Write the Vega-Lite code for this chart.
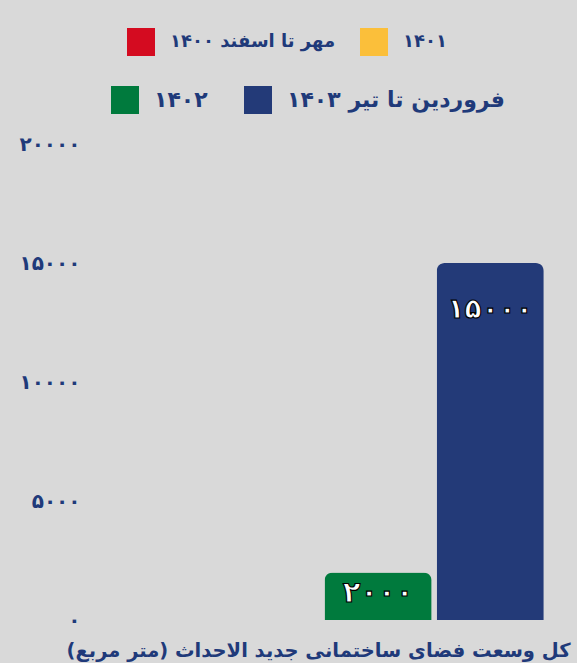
{
  "$schema": "https://vega.github.io/schema/vega-lite/v6.json",
  "width": 448,
  "height": 476,
  "autosize": "none",
  "padding": {"left": 98, "top": 144, "right": 31, "bottom": 43},
  "background": "#d9d9d9",
  "config": {
    "view": {"stroke": null},
    "font": "DejaVu Sans",
    "legend": {
      "orient": "none",
      "direction": "horizontal",
      "title": null,
      "symbolType": "square",
      "symbolSize": 784,
      "symbolStrokeWidth": 0,
      "labelFont": "DejaVu Sans",
      "labelFontSize": 22,
      "labelFontWeight": "bold",
      "labelColor": "#1f3a7a",
      "labelOffset": 15,
      "labelLimit": 400
    }
  },
  "data": {
    "values": [
      {"period": "مهر تا اسفند ۱۴۰۰", "area": null},
      {"period": "۱۴۰۱", "area": null},
      {"period": "۱۴۰۲", "area": 2000},
      {"period": "فروردین تا تیر ۱۴۰۳", "area": 15000}
    ]
  },
  "transform": [
    {"calculate": "replace(replace(replace(replace(replace(replace(replace(replace(replace(replace(format(datum.area,'d'),regexp('0','g'),'۰'),regexp('1','g'),'۱'),regexp('2','g'),'۲'),regexp('3','g'),'۳'),regexp('4','g'),'۴'),regexp('5','g'),'۵'),regexp('6','g'),'۶'),regexp('7','g'),'۷'),regexp('8','g'),'۸'),regexp('9','g'),'۹')", "as": "label"}
  ],
  "encoding": {
    "x": {
      "field": "period",
      "type": "nominal",
      "sort": null,
      "scale": {
        "domain": ["مهر تا اسفند ۱۴۰۰", "۱۴۰۱", "۱۴۰۲", "فروردین تا تیر ۱۴۰۳"],
        "paddingInner": 0.045,
        "paddingOuter": 0.02
      },
      "axis": {
        "labels": false,
        "ticks": false,
        "domain": false,
        "title": "کل وسعت فضای ساختمانی جدید الاحداث (متر مربع)‏",
        "titleFont": "DejaVu Sans",
        "titleFontSize": 19.5,
        "titleFontWeight": "bold",
        "titleColor": "#1f3a7a",
        "titleAlign": "right",
        "titleBaseline": "alphabetic",
        "titleX": 472,
        "titleY": 36
      }
    },
    "y": {
      "field": "area",
      "type": "quantitative",
      "scale": {"domain": [0, 20000], "nice": false},
      "axis": {
        "values": [0, 5000, 10000, 15000, 20000],
        "domain": false,
        "ticks": false,
        "grid": false,
        "title": null,
        "labelExpr": "replace(replace(replace(replace(replace(replace(replace(replace(replace(replace(format(datum.value,'d'),regexp('0','g'),'۰'),regexp('1','g'),'۱'),regexp('2','g'),'۲'),regexp('3','g'),'۳'),regexp('4','g'),'۴'),regexp('5','g'),'۵'),regexp('6','g'),'۶'),regexp('7','g'),'۷'),regexp('8','g'),'۸'),regexp('9','g'),'۹')",
        "labelFont": "DejaVu Sans",
        "labelFontSize": 20,
        "labelFontWeight": "bold",
        "labelColor": "#1f3a7a",
        "labelPadding": 18
      }
    }
  },
  "layer": [
    {
      "transform": [{"filter": "datum.period == 'مهر تا اسفند ۱۴۰۰' || datum.period == '۱۴۰۱'"}],
      "mark": {"type": "bar", "cornerRadiusTopLeft": 8, "cornerRadiusTopRight": 8},
      "encoding": {
        "color": {
          "field": "period",
          "type": "nominal",
          "scale": {
            "domain": ["مهر تا اسفند ۱۴۰۰", "۱۴۰۱"],
            "range": ["#d40b20", "#fbbf3a"]
          },
          "legend": {"legendX": 29, "legendY": -116, "columnPadding": 24, "labelFontSize": 18}
        }
      }
    },
    {
      "transform": [{"filter": "datum.period == '۱۴۰۲' || datum.period == 'فروردین تا تیر ۱۴۰۳'"}],
      "mark": {"type": "bar", "cornerRadiusTopLeft": 8, "cornerRadiusTopRight": 8},
      "encoding": {
        "color": {
          "field": "period",
          "type": "nominal",
          "scale": {
            "domain": ["۱۴۰۲", "فروردین تا تیر ۱۴۰۳"],
            "range": ["#007a3d", "#233a78"]
          },
          "legend": {"legendX": 13, "legendY": -58, "columnPadding": 36}
        }
      }
    },
    {
      "transform": [{"filter": "datum.period == '۱۴۰۲'"}],
      "mark": {"type": "text", "fill": "#ffffff", "stroke": "#000000", "strokeWidth": 1.2, "fontSize": 29, "fontWeight": "bold", "baseline": "middle", "dy": 21},
      "encoding": {"text": {"field": "label"}}
    },
    {
      "transform": [{"filter": "datum.period == 'فروردین تا تیر ۱۴۰۳'"}],
      "mark": {"type": "text", "fill": "#ffffff", "stroke": "#000000", "strokeWidth": 1.2, "fontSize": 28, "fontWeight": "bold", "baseline": "middle", "dy": 47},
      "encoding": {"text": {"field": "label"}}
    }
  ],
  "resolve": {"scale": {"color": "independent"}, "legend": {"color": "independent"}}
}
